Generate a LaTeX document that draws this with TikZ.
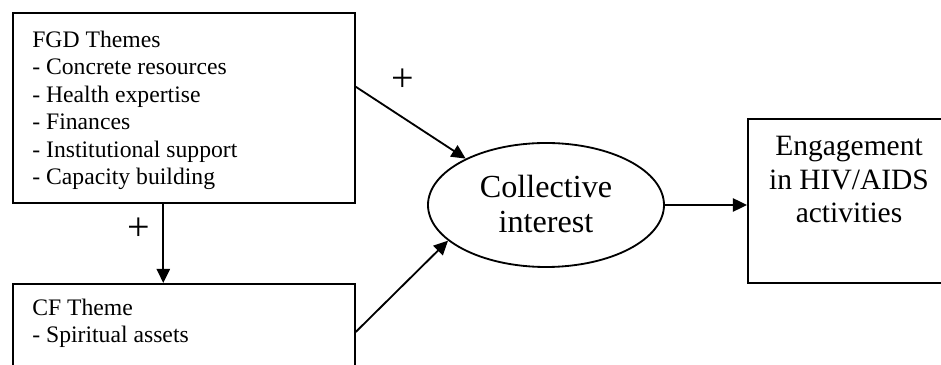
\documentclass[tikz,border=0pt]{standalone}
\usepackage{fontspec}
\setmainfont{Liberation Serif}
\usetikzlibrary{arrows.meta,shapes.geometric,calc}

\tikzset{
  themebox/.style={draw, line width=1.1pt, rectangle, inner sep=0pt, anchor=north west},
  flow/.style={line width=1.1pt, -{Triangle[length=8.5pt,width=8pt]}},
  themetext/.style={inner sep=0pt, anchor=base west, align=left, font=\fontsize{14.2}{16.5}\selectfont},
  plussign/.style={inner sep=0pt, font=\fontsize{24}{24}\selectfont},
}

\begin{document}
\begin{tikzpicture}[x=0.6pt,y=-0.6pt]
\clip (0,0) rectangle (941,365);
\node[themebox, minimum width=205.2pt, minimum height=114pt] (fgd) at (12,12) {};
\node[themetext] (fgdtext) at (32,185) {FGD Themes\\- Concrete resources\\- Health expertise\\- Finances\\- Institutional support\\- Capacity building};
\node[themebox, minimum width=205.2pt, minimum height=72pt] (cf) at (12,283) {};
\node[themetext] (cftext) at (32,343) {CF Theme\\- Spiritual assets};
\node[draw, ellipse, line width=1.1pt, minimum width=141.6pt, minimum height=74.4pt, inner sep=0pt] (ci) at (546,205) {};
\node[anchor=base, align=center, inner sep=0pt, font=\fontsize{19.3}{21}\selectfont] (citext) at (546,233) {Collective\\interest};
\node[themebox, minimum width=122.4pt, minimum height=98.4pt] (eng) at (747,118) {};
\node[anchor=base, align=center, inner sep=0pt, font=\fontsize{17.7}{20.1}\selectfont] (engtext) at (849,223) {Engagement\\in HIV/AIDS\\activities};
\coordinate (split) at ($(fgd.south west)!0.44!(fgd.south east)$);
\draw[flow] (split) -- (split |- cf.north);
\draw[flow] (fgd.7) -- (ci.150);
\draw[flow] (cf.4) -- (ci.200);
\draw[flow] (ci.east) -- (ci.east -| eng.west);
\node[plussign] (plusdown) at (139,229) {+};
\node[plussign] (plusup) at (403,80) {+};
\end{tikzpicture}
\end{document}
